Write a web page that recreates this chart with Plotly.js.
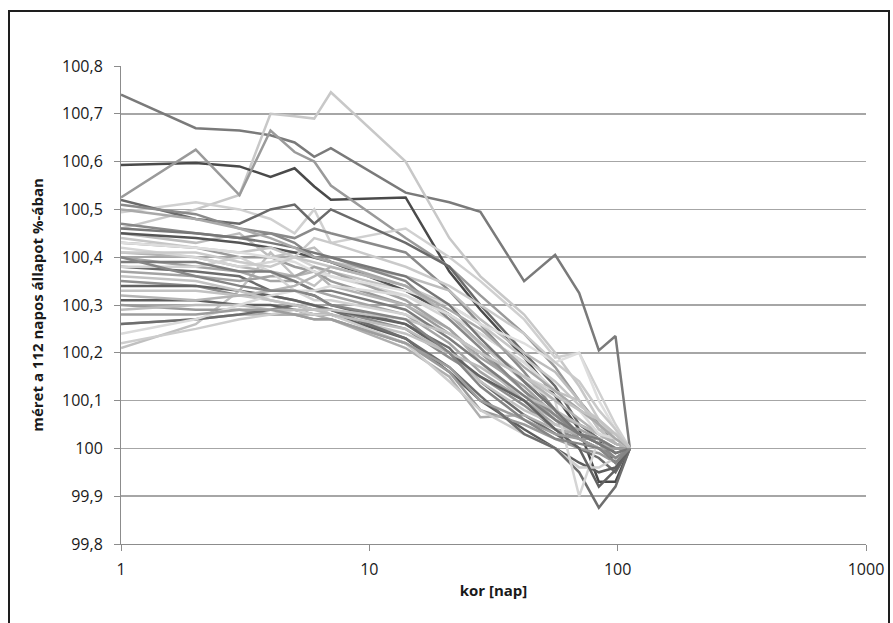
<!DOCTYPE html>
<html>
<head>
<meta charset="utf-8">
<script src="https://cdn.plot.ly/plotly-3.0.1.min.js"></script>
<style>
  html, body { margin: 0; padding: 0; background: #ffffff; }
  #wrap { position: relative; width: 893px; height: 623px; overflow: hidden; }
  #chart { position: absolute; left: 0; top: 0; width: 893px; height: 623px; }
  #frame { position: absolute; left: 8px; top: 10px; width: 878px; height: 700px;
           border: 2px solid #1e1e1e; pointer-events: none; }
</style>
</head>
<body>
<div id="wrap">
  <div id="chart"></div>
  <div id="frame"></div>
</div>
<script>
// age in days (x)
const ages = [1, 2, 3, 4, 5, 6, 7, 14, 21, 28, 42, 56, 70, 84, 98, 112];

// size as % of the 112-day state, one array per specimen
const s01 = [100.74,100.67,100.665,100.655,100.64,100.61,100.628,100.535,100.515,100.495,100.35,100.405,100.325,100.205,100.235,100.00];
const s02 = [100.46,100.50,100.53,100.70,100.695,100.69,100.745,100.60,100.44,100.36,100.28,100.20,100.13,100.06,100.02,100.00];
const s03 = [100.593,100.597,100.59,100.568,100.586,100.548,100.52,100.525,100.37,100.29,100.19,100.11,100.04,99.93,99.93,100.00];
const s04 = [100.525,100.625,100.53,100.665,100.62,100.60,100.55,100.44,100.38,100.32,100.24,100.17,100.10,100.05,100.01,100.00];
const s05 = [100.494,100.515,100.50,100.48,100.45,100.50,100.43,100.46,100.40,100.35,100.27,100.19,100.20,100.12,100.05,100.00];
const s06 = [100.52,100.48,100.47,100.50,100.51,100.47,100.50,100.43,100.38,100.30,100.20,100.13,100.05,100.02,99.99,100.00];
const s07 = [100.51,100.49,100.46,100.45,100.44,100.46,100.45,100.41,100.33,100.26,100.16,100.08,100.02,100.00,99.98,100.00];
const s08 = [100.45,100.43,100.45,100.40,100.41,100.42,100.39,100.36,100.33,100.27,100.20,100.16,100.10,100.04,100.03,100.00];
const s09 = [100.21,100.26,100.33,100.41,100.36,100.34,100.37,100.33,100.28,100.24,100.18,100.12,100.10,100.04,100.01,100.00];
const s10 = [100.45,100.44,100.43,100.42,100.41,100.40,100.39,100.33,100.28,100.22,100.14,100.08,100.03,100.02,99.97,100.00];
const s11 = [100.43,100.42,100.40,100.40,100.38,100.37,100.35,100.30,100.24,100.20,100.12,100.06,100.02,100.02,100.00,100.00];
const s12 = [100.41,100.40,100.38,100.37,100.36,100.37,100.34,100.30,100.25,100.18,100.10,100.06,100.03,100.01,100.00,100.00];
const s13 = [100.40,100.38,100.37,100.35,100.35,100.33,100.32,100.28,100.22,100.16,100.10,100.05,100.04,100.02,100.00,100.00];
const s14 = [100.38,100.37,100.36,100.33,100.33,100.32,100.30,100.26,100.21,100.14,100.07,100.03,100.00,99.98,99.95,100.00];
const s15 = [100.35,100.34,100.32,100.32,100.31,100.30,100.29,100.25,100.19,100.15,100.09,100.04,100.02,100.00,99.98,100.00];
const s16 = [100.33,100.33,100.32,100.31,100.30,100.30,100.28,100.24,100.20,100.14,100.08,100.05,100.03,100.02,100.00,100.00];
const s17 = [100.31,100.31,100.30,100.30,100.29,100.28,100.28,100.23,100.16,100.10,100.04,100.00,99.97,99.95,99.96,100.00];
const s18 = [100.30,100.29,100.29,100.28,100.28,100.27,100.27,100.22,100.16,100.08,100.05,100.02,100.00,99.99,99.97,100.00];
const s19 = [100.26,100.27,100.28,100.28,100.28,100.28,100.27,100.21,100.15,100.065,100.07,100.04,100.03,100.01,100.00,100.00];
const s20 = [100.22,100.25,100.27,100.28,100.29,100.28,100.28,100.22,100.14,100.08,100.03,100.00,99.96,99.96,99.98,100.00];
const s21 = [100.26,100.27,100.28,100.29,100.30,100.29,100.29,100.23,100.17,100.11,100.03,100.00,99.95,99.876,99.92,100.00];
const s22 = [100.42,100.40,100.38,100.39,100.40,100.38,100.36,100.32,100.27,100.22,100.14,100.10,99.90,100.02,100.03,100.00];
const s23 = [100.34,100.34,100.33,100.32,100.31,100.30,100.29,100.26,100.20,100.15,100.10,100.04,100.00,99.92,99.955,100.00];
const s24 = [100.44,100.42,100.41,100.42,100.40,100.39,100.38,100.34,100.30,100.26,100.19,100.14,100.09,100.06,100.03,100.00];
const s25 = [100.37,100.36,100.35,100.36,100.36,100.38,100.37,100.31,100.25,100.19,100.13,100.07,100.05,100.03,100.01,100.00];
const s26 = [100.38,100.38,100.40,100.37,100.33,100.31,100.31,100.28,100.24,100.20,100.15,100.12,100.08,100.05,100.02,100.00];
const s27 = [100.47,100.45,100.44,100.45,100.43,100.40,100.40,100.35,100.27,100.21,100.12,100.07,100.03,100.01,99.98,100.00];
const s28 = [100.29,100.30,100.30,100.29,100.29,100.29,100.28,100.25,100.20,100.17,100.11,100.08,100.05,100.03,100.01,100.00];
const s29 = [100.43,100.42,100.41,100.40,100.39,100.37,100.36,100.33,100.30,100.26,100.22,100.18,100.20,100.10,100.04,100.00];
const s30 = [100.39,100.39,100.37,100.37,100.35,100.33,100.33,100.29,100.23,100.18,100.11,100.06,100.03,100.02,100.00,100.00];
const s31 = [100.32,100.31,100.32,100.33,100.34,100.36,100.38,100.34,100.28,100.22,100.15,100.10,100.06,100.03,100.01,100.00];
const s32 = [100.24,100.27,100.30,100.32,100.33,100.33,100.34,100.32,100.28,100.24,100.18,100.12,100.08,100.03,100.02,100.00];
const s33 = [100.28,100.28,100.29,100.29,100.28,100.27,100.27,100.22,100.17,100.10,100.06,100.03,100.02,100.00,100.00,100.00];
const s34 = [100.41,100.41,100.39,100.38,100.40,100.44,100.43,100.38,100.34,100.30,100.24,100.18,100.14,100.08,100.04,100.00];
const s35 = [100.46,100.45,100.44,100.43,100.42,100.41,100.40,100.36,100.30,100.23,100.14,100.08,100.03,100.01,99.99,100.00];
const s36 = [100.50,100.48,100.46,100.44,100.42,100.40,100.39,100.34,100.29,100.25,100.17,100.12,100.08,100.05,100.02,100.00];
const s37 = [100.36,100.35,100.33,100.31,100.30,100.29,100.29,100.27,100.24,100.20,100.15,100.11,100.08,100.06,100.03,100.00];
const s38 = [100.40,100.36,100.34,100.33,100.33,100.32,100.30,100.27,100.20,100.13,100.06,100.02,100.01,100.00,99.97,100.00];

const seriesList = [s01,s02,s03,s04,s05,s06,s07,s08,s09,s10,s11,s12,s13,s14,s15,s16,s17,s18,s19,
                    s20,s21,s22,s23,s24,s25,s26,s27,s28,s29,s30,s31,s32,s33,s34,s35,s36,s37,s38];
const seriesColors = ['#7a7a7a','#c8c8c8','#4a4a4a','#9a9a9a','#d0d0d0','#6a6a6a','#8a8a8a','#bdbdbd','#c0c0c0','#555555',
                      '#9a9a9a','#b4b4b4','#a5a5a5','#6c6c6c','#8e8e8e','#c2c2c2','#5e5e5e','#9a9a9a','#aeaeae','#cdcdcd',
                      '#6e6e6e','#d5d5d5','#626262','#c6c6c6','#a3a3a3','#d2d2d2','#888888','#bcbcbc','#dedede','#7c7c7c',
                      '#b4b4b4','#dadada','#9d9d9d','#cacaca','#777777','#a9a9a9','#c3c3c3','#858585'];

const yTickVals = [99.8, 99.9, 100, 100.1, 100.2, 100.3, 100.4, 100.5, 100.6, 100.7, 100.8];
const yTickText = ['99,8','99,9','100','100,1','100,2','100,3','100,4','100,5','100,6','100,7','100,8'];
const xTickVals = [1, 10, 100, 1000];
const xTickText = ['1','10','100','1000'];

const FONT = 'Open Sans, Liberation Sans, sans-serif';

const traces = seriesList.map((ys, i) => ({
  type: 'scatter',
  mode: 'lines',
  x: ages,
  y: ys,
  line: { color: seriesColors[i], width: 2.5 },
  hoverinfo: 'skip',
  showlegend: false
}));

const layout = {
  width: 893,
  height: 623,
  margin: { l: 121, r: 27, t: 66, b: 79 },
  paper_bgcolor: '#ffffff',
  plot_bgcolor: '#ffffff',
  showlegend: false,
  xaxis: {
    type: 'log',
    range: [0, 3],
    tickvals: xTickVals,
    ticktext: xTickText,
    ticks: 'outside',
    ticklen: 6,
    tickwidth: 1,
    tickcolor: '#8c8c8c',
    ticklabelstandoff: 5,
    showgrid: false,
    zeroline: false,
    showline: true,
    linecolor: '#8c8c8c',
    linewidth: 1,
    tickfont: { family: FONT, size: 16, color: '#1a1a1a' },
    title: { text: '<b>kor [nap]</b>', font: { family: FONT, size: 15, color: '#1a1a1a' }, standoff: 6 },
    automargin: false
  },
  yaxis: {
    range: [99.8, 100.8],
    tickvals: yTickVals,
    ticktext: yTickText,
    ticks: 'outside',
    ticklen: 6,
    tickwidth: 1,
    tickcolor: '#8c8c8c',
    ticklabelstandoff: 8,
    showgrid: true,
    gridcolor: '#a6a6a6',
    gridwidth: 1.5,
    zeroline: false,
    showline: true,
    linecolor: '#8c8c8c',
    linewidth: 1,
    tickfont: { family: FONT, size: 16, color: '#1a1a1a' },
    title: { text: '<b>méret a 112 napos állapot %-ában</b>', font: { family: FONT, size: 15, color: '#1a1a1a' }, standoff: 14 },
    automargin: false
  }
};

Plotly.newPlot('chart', traces, layout, { staticPlot: true, displayModeBar: false });
</script>
</body>
</html>
